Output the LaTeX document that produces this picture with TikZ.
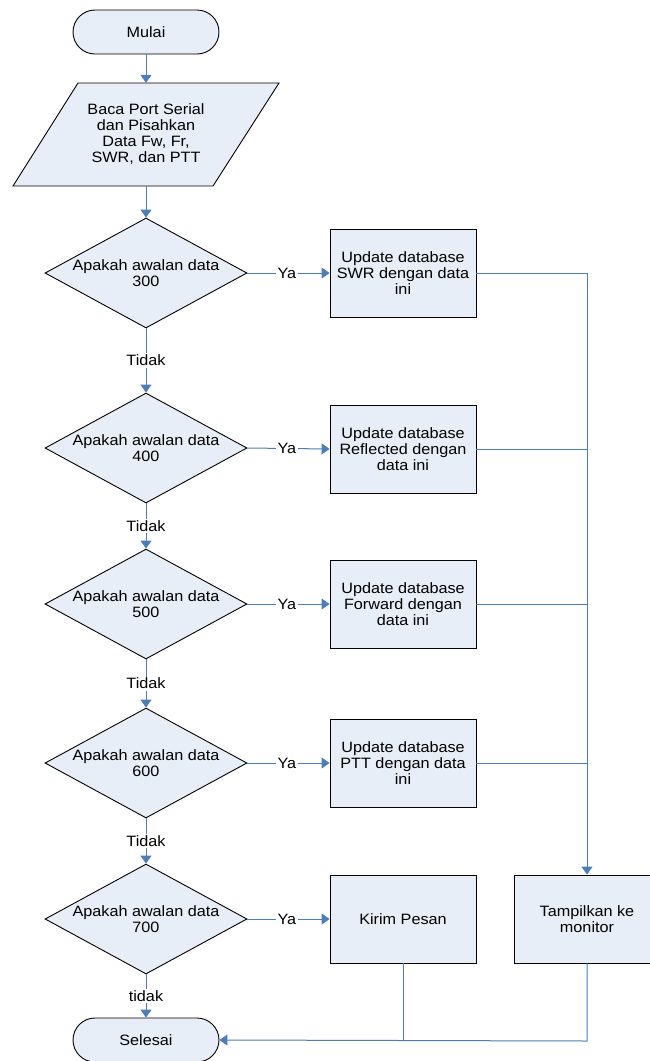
\documentclass[tikz,border=0pt]{standalone}
\usepackage{fontspec}
\setmainfont{Liberation Sans}[FakeStretch=1.08]
\usetikzlibrary{shapes.geometric,arrows.meta}
\definecolor{flowline}{RGB}{74,126,187}
\definecolor{boxfill}{RGB}{232,238,247}
\begin{document}
\begin{tikzpicture}[x=1pt,y=-1pt,
  txt/.style={font=\fontsize{15}{16}\selectfont,align=center,inner sep=0pt},
  term/.style={draw=black,fill=boxfill,line width=0.9pt,rounded corners=22pt,
    minimum width=146pt,minimum height=44pt,inner sep=0pt,txt},
  procbox/.style={draw=black,fill=boxfill,line width=0.9pt,
    minimum width=146pt,minimum height=88pt,inner sep=0pt,txt},
  decision/.style={draw=black,fill=boxfill,line width=0.9pt,diamond,
    minimum width=202pt,minimum height=110pt,inner sep=0pt},
  flow/.style={draw=flowline,line width=1pt},
  arr/.style={flow,-{Triangle[length=8pt,width=11pt]}},
  lbl/.style={txt,fill=white,inner sep=1.5pt}]
\useasboundingbox (0,0) rectangle (649,1061);
\fill[white] (0,0) rectangle (649,1061);

% start
\node[term] (mulai) at (146,32) {Mulai};

% input parallelogram
\fill[boxfill] (78,83) -- (279,83) -- (213,186) -- (13,186) -- cycle;
\draw[line width=0.9pt] (78,83) -- (279,83) -- (213,186) -- (13,186) -- cycle;
\node[txt,minimum height=103pt,minimum width=200pt] (baca) at (146,134.5)
  {Baca Port Serial\\dan Pisahkan\\Data Fw, Fr,\\SWR, dan PTT};

% decisions
\foreach \n/\y/\v in {d1/273/300,d2/448/400,d3/604/500,d4/763/600,d5/919/700}{
  \node[decision] (\n) at (146,\y) {};
  \node[txt] (\n t) at (146,\y) {Apakah awalan data\\\v};
}

% process boxes
\node[procbox] (u1) at (403,273) {Update database\\SWR dengan data\\ini};
\node[procbox] (u2) at (403,449) {Update database\\Reflected dengan\\data ini};
\node[procbox] (u3) at (403,604) {Update database\\Forward dengan\\data ini};
\node[procbox] (u4) at (403,763) {Update database\\PTT dengan data\\ini};
\node[procbox] (kirim) at (403,919) {Kirim Pesan};
\node[procbox] (tampil) at (587,919) {Tampilkan ke\\monitor};

% end
\node[term] (selesai) at (146,1040) {Selesai};

% main vertical flow
\draw[arr] (mulai) -- (baca);
\draw[arr] (baca) -- (d1);
\draw[arr] (d1) -- node[lbl] (t1) {Tidak} (d2);
\draw[arr] (d2) -- node[lbl,pos=0.5] (t2) {Tidak} (d3);
\draw[arr] (d3) -- node[lbl] (t3) {Tidak} (d4);
\draw[arr] (d4) -- node[lbl] (t4) {Tidak} (d5);
\draw[arr] (d5) -- node[lbl] (t5) {tidak} (selesai);

% yes branches
\foreach \d/\u/\k in {d1/u1/1,d2/u2/2,d3/u3/3,d4/u4/4,d5/kirim/5}{
  \draw[arr] (\d.east) -- node[lbl,pos=0.48] (ya\k) {Ya} (\u.west);
}

% collector line to the monitor display
\coordinate (c1) at (587,273);
\coordinate (cb) at (587,1041);
\coordinate (kb) at (403,1041);
\draw[flow] (u1.east) -- (c1);
\foreach \u in {u2,u3,u4}{
  \draw[flow] (\u.east) -- (c1 |- \u.east);
}
\draw[arr] (c1) -- (tampil.north);

% return to end
\draw[flow] (kirim.south) -- (kb);
\draw[arr] (tampil.south) -- (cb) -- (selesai.east);
\end{tikzpicture}
\end{document}
